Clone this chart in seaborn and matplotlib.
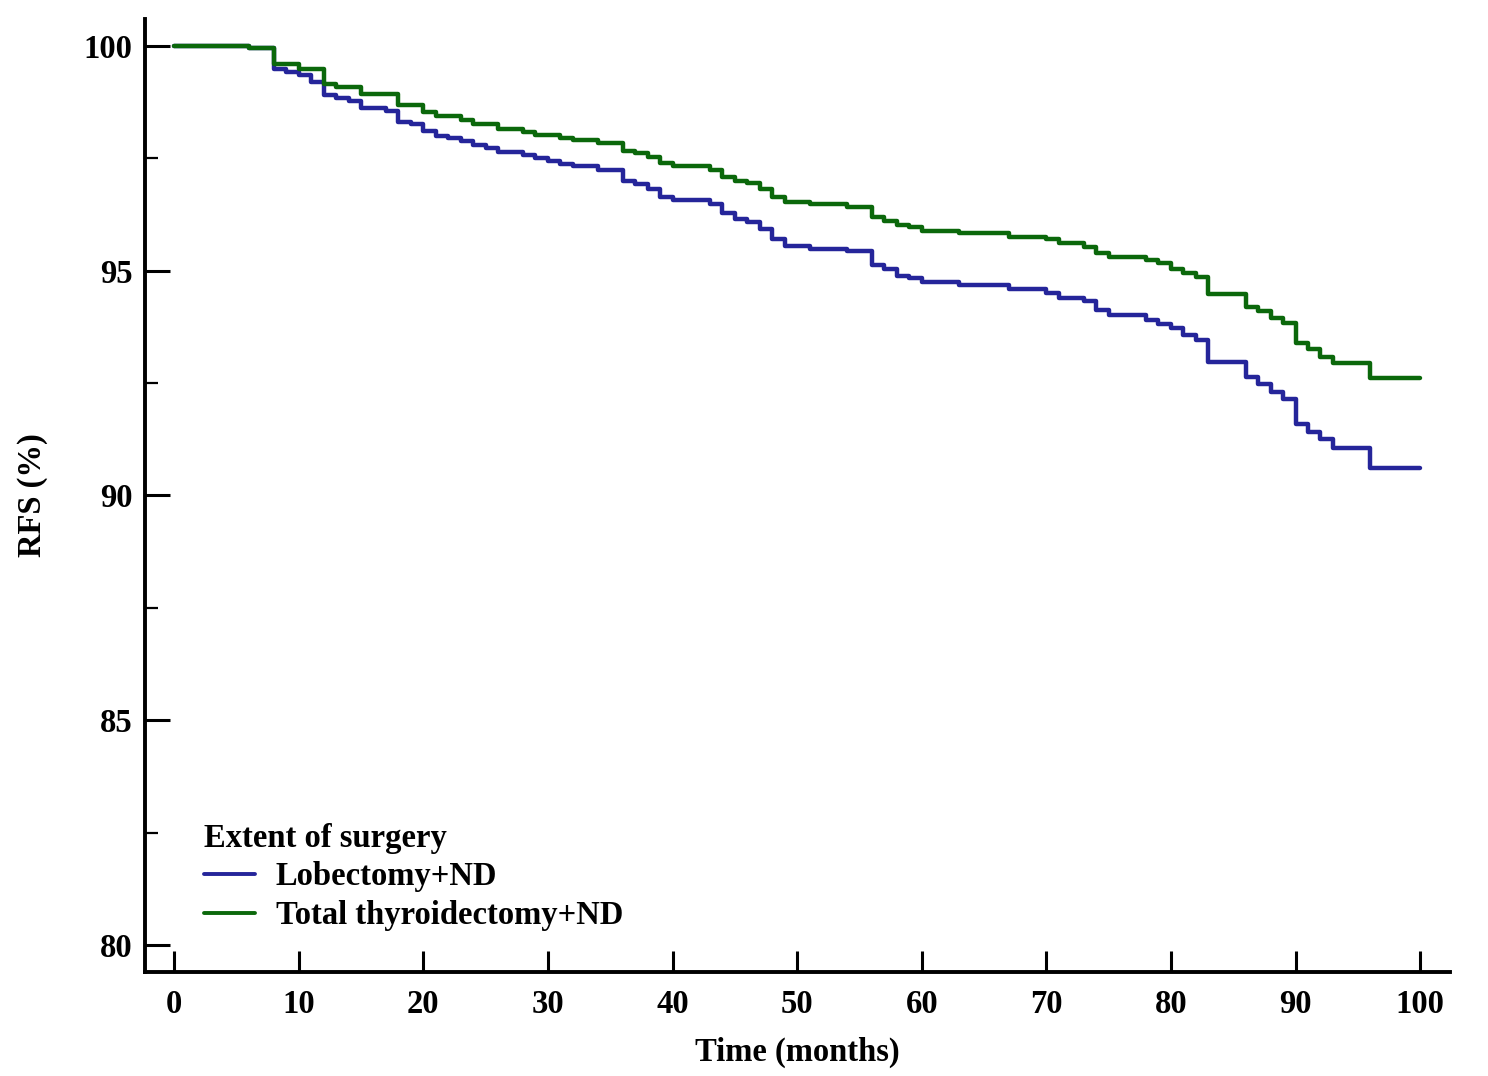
import numpy as np
import pandas as pd
import matplotlib
matplotlib.use('Agg')
import matplotlib.pyplot as plt
from matplotlib.ticker import MultipleLocator
import seaborn as sns

# step times (months) and RFS (%) after each step
lobe_time = [0, 6, 8, 9, 10, 11, 12, 13, 14, 15, 17, 18, 19, 20, 21, 22, 23, 24, 25, 26,
             28, 29, 30, 31, 32, 34, 36, 37, 38, 39, 40, 43, 44, 45, 46, 47, 48, 49, 51,
             54, 56, 57, 58, 59, 60, 63, 67, 70, 71, 73, 74, 75, 78, 79, 80, 81, 82, 83,
             86, 87, 88, 89, 90, 91, 92, 93, 96, 100]
lobe_rfs = [100, 99.95, 99.48, 99.42, 99.35, 99.2, 98.91, 98.84, 98.78, 98.63, 98.55, 98.32,
            98.26, 98.11, 98.0, 97.95, 97.89, 97.8, 97.72, 97.64, 97.57, 97.5, 97.45, 97.37,
            97.34, 97.24, 97.0, 96.93, 96.83, 96.63, 96.57, 96.48, 96.28, 96.15, 96.09, 95.94,
            95.7, 95.55, 95.48, 95.44, 95.13, 95.05, 94.88, 94.83, 94.76, 94.68, 94.59, 94.51,
            94.4, 94.33, 94.13, 94.02, 93.9, 93.82, 93.72, 93.57, 93.46, 92.96, 92.64, 92.48,
            92.31, 92.14, 91.59, 91.42, 91.25, 91.05, 90.61, 90.61]

total_time = [0, 6, 8, 10, 12, 13, 15, 18, 20, 21, 23, 24, 26, 28, 29, 31, 32, 34, 36, 37,
              38, 39, 40, 43, 44, 45, 46, 47, 48, 49, 51, 54, 56, 57, 58, 59, 60, 63, 67,
              70, 71, 73, 74, 75, 78, 79, 80, 81, 82, 83, 86, 87, 88, 89, 90, 91, 92, 93,
              96, 100]
total_rfs = [100, 99.95, 99.59, 99.48, 99.15, 99.08, 98.93, 98.69, 98.54, 98.44, 98.35, 98.26,
             98.16, 98.09, 98.02, 97.96, 97.91, 97.85, 97.67, 97.61, 97.52, 97.39, 97.33, 97.24,
             97.08, 97.0, 96.95, 96.83, 96.63, 96.54, 96.48, 96.41, 96.2, 96.11, 96.02, 95.97,
             95.88, 95.83, 95.76, 95.7, 95.61, 95.53, 95.39, 95.31, 95.24, 95.17, 95.05, 94.96,
             94.85, 94.48, 94.2, 94.1, 93.96, 93.83, 93.39, 93.25, 93.09, 92.94, 92.61, 92.61]

groups = ['Lobectomy+ND', 'Total thyroidectomy+ND']
colors = ['#25259a', '#0b680b']

df = pd.concat([
    pd.DataFrame({'time': lobe_time, 'rfs': lobe_rfs, 'group': groups[0]}),
    pd.DataFrame({'time': total_time, 'rfs': total_rfs, 'group': groups[1]}),
])

sns.set_style('white')
plt.rcParams['font.family'] = ['Liberation Serif', 'DejaVu Serif']
plt.rcParams['font.weight'] = 'bold'
plt.rcParams['text.color'] = 'black'
plt.rcParams['axes.labelcolor'] = 'black'
plt.rcParams['xtick.color'] = 'black'
plt.rcParams['ytick.color'] = 'black'
fs = 23.5

fig = plt.figure(figsize=(14.88, 10.76), dpi=100)
ax = fig.add_axes([0.0975, 0.0967, 0.877, 0.8856])

sns.lineplot(data=df, x='time', y='rfs', hue='group', hue_order=groups,
             palette=colors, estimator=None, drawstyle='steps-post',
             linewidth=3.2, ax=ax)

ax.set_xlim(-2.33, 102.4)
ax.set_ylim(79.40, 100.60)
ax.set_xticks(np.arange(0, 101, 10))
ax.set_yticks([80, 85, 90, 95, 100])
ax.yaxis.set_minor_locator(MultipleLocator(2.5))

for s in ['top', 'right']:
    ax.spines[s].set_visible(False)
for s in ['left', 'bottom']:
    ax.spines[s].set_linewidth(2.8)
    ax.spines[s].set_color('black')

ax.tick_params(axis='x', direction='in', length=15, width=2.2, pad=12,
               labelsize=fs, bottom=True, colors='black')
ax.tick_params(axis='y', which='major', direction='in', length=18, width=2.2,
               pad=9, labelsize=fs, left=True, colors='black')
ax.tick_params(axis='y', which='minor', direction='in', length=9, width=1.6,
               left=True, colors='black')
for lab in ax.get_xticklabels() + ax.get_yticklabels():
    lab.set_fontweight('bold')

ax.set_xlabel('Time (months)', fontsize=fs, fontweight='bold', labelpad=12, color='black')
ax.set_ylabel('RFS (%)', fontsize=fs, fontweight='bold', labelpad=26, color='black')

leg = ax.legend(title='Extent of surgery', loc='lower left',
                bbox_to_anchor=(0.035, 0.029), frameon=False,
                prop={'size': fs, 'weight': 'bold'}, handlelength=1.56,
                handletextpad=0.64, labelspacing=0.24, alignment='left',
                borderaxespad=0, labelcolor='black')
leg.get_title().set_fontsize(fs)
leg.get_title().set_fontweight('bold')
leg.get_title().set_color('black')
for h in leg.get_lines():
    h.set_linewidth(2.8)

fig.savefig('out.png', dpi=100)
